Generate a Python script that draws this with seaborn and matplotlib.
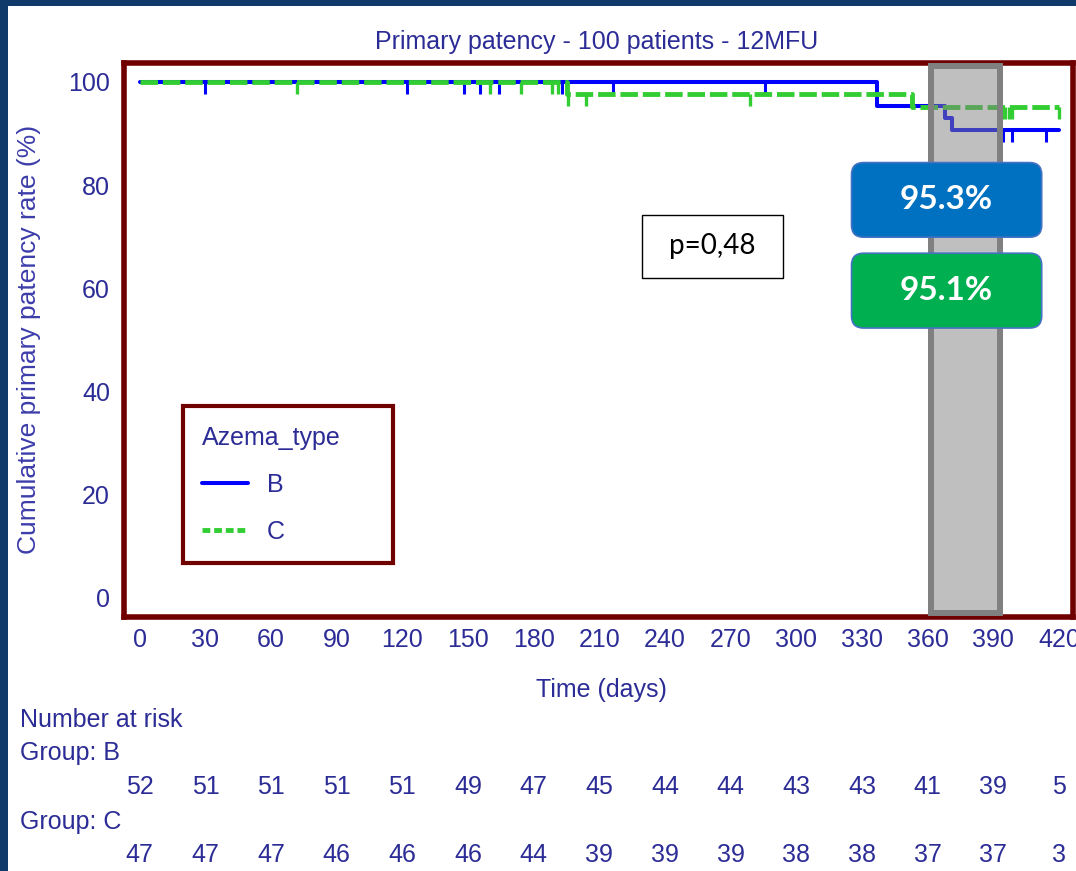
import numpy as np
import pandas as pd
import seaborn as sns
import matplotlib.pyplot as plt
import matplotlib.transforms as mtransforms
from matplotlib.lines import Line2D
from matplotlib.patches import Rectangle, FancyBboxPatch

# ---- data ----
tick_days = [0, 30, 60, 90, 120, 150, 180, 210, 240, 270, 300, 330, 360, 390, 420]
risk_b = [52, 51, 51, 51, 51, 49, 47, 45, 44, 44, 43, 43, 41, 39, 5]
risk_c = [47, 47, 47, 46, 46, 46, 44, 39, 39, 39, 38, 38, 37, 37, 3]

# Kaplan-Meier steps (day, cumulative patency %)
steps_b_day = [0, 337, 368, 371, 420]
steps_b_rate = [100, 95.3, 93.0, 90.7, 90.7]
steps_c_day = [0, 195, 353, 420]
steps_c_rate = [100, 97.7, 95.1, 95.1]

# censored observations (days)
censor_b = [30, 122, 148, 155.5, 164, 193, 216, 285.5, 394.5, 398.5, 414]
censor_c = [72, 160, 174, 188.5, 191, 195.5, 204, 279, 394, 395.5, 397, 398.5, 420]

est_labels = ["95.3%", "95.1%"]
p_label = "p=0,48"

# ---- colours ----
spine_c = "#700000"
text_c = "#2c2c96"
blue = "#0000ff"
green = "#32cd32"
fs = 18


def rate_at(days, step_day, step_rate):
    idx = np.searchsorted(step_day, days, side="right") - 1
    return np.asarray(step_rate)[idx]


sns.set_style("white")
plt.rcParams["font.family"] = ["Liberation Sans", "DejaVu Sans"]

fig = plt.figure(figsize=(10.76, 8.71), dpi=100)
fig.patch.set_facecolor("#0f3a6a")
fig.add_artist(Rectangle((7.5 / 1076, 0), 1, 1 - 6 / 871, transform=fig.transFigure,
                         facecolor="white", edgecolor="none", zorder=-10))

ax = fig.add_axes([124 / 1076, 1 - 617 / 871, 949 / 1076, 553.7 / 871])

df_b = pd.DataFrame({"day": steps_b_day, "rate": steps_b_rate})
df_c = pd.DataFrame({"day": steps_c_day, "rate": steps_c_rate})

sns.lineplot(data=df_b, x="day", y="rate", ax=ax, color=blue, lw=2.9,
             drawstyle="steps-post", estimator=None, sort=False, legend=False, zorder=3)
sns.scatterplot(x=censor_b, y=rate_at(censor_b, steps_b_day, steps_b_rate), ax=ax,
                marker=3, s=75, color=blue, linewidth=2.2, legend=False, zorder=3)

sns.lineplot(data=df_c, x="day", y="rate", ax=ax, color=green, lw=3.5,
             linestyle=(0, (3.6, 1.0)), drawstyle="steps-post", estimator=None,
             sort=False, legend=False, zorder=4)
sns.scatterplot(x=censor_c, y=rate_at(censor_c, steps_c_day, steps_c_rate), ax=ax,
                marker=3, s=75, color=green, linewidth=2.4, legend=False, zorder=4)

# grey highlight around 12 months
ax.add_patch(Rectangle((361.5, -2.9), 31.5, 105.9, facecolor=(0.5, 0.5, 0.5, 0.5),
                       edgecolor="#808080", lw=4.3, zorder=5))

# estimate boxes
aspect = 2.189 / 5.16
for (y0, y1), col, lab in zip([(69.9, 84.36), (52.3, 66.8)], ["#0070c0", "#00b050"], est_labels):
    ax.add_patch(FancyBboxPatch((325.2, y0), 86.9, y1 - y0,
                                boxstyle="round,pad=0,rounding_size=5.5", mutation_aspect=aspect,
                                facecolor=col, edgecolor="#4472c4", lw=1.2, zorder=6))
    ax.text(368.65, (y0 + y1) / 2, lab, ha="center", va="center", color="white",
            fontsize=24, fontweight="bold", family=["Lato", "DejaVu Sans"], zorder=7)

ax.add_patch(Rectangle((229.5, 62.0), 64.4, 12.2, facecolor="white", edgecolor="black",
                       lw=1.0, zorder=6))
ax.text(261.7, 68.1, p_label, ha="center", va="center", color="black", fontsize=20,
        family=["Lato", "DejaVu Sans"], zorder=7)

# axes styling
ax.set_xlim(-7.2, 426.4)
ax.set_ylim(-3.7, 103.6)
ax.set_xticks(tick_days)
ax.set_xticks(np.arange(15, 420, 30), minor=True)
ax.set_yticks([0, 20, 40, 60, 80, 100])
ax.set_yticks([10, 30, 50, 70, 90], minor=True)
ax.set_xlabel("")
ax.set_ylabel("")
for side in ["left", "bottom", "top", "right"]:
    ax.spines[side].set_visible(True)
    ax.spines[side].set_color(spine_c)
    ax.spines[side].set_linewidth(4)
ax.tick_params(axis="x", which="major", direction="in", length=10.5, width=2,
               color=spine_c, labelsize=fs, labelcolor=text_c, pad=8)
ax.tick_params(axis="y", which="major", direction="in", length=10, width=2,
               color=spine_c, labelsize=fs, labelcolor=text_c, pad=10)
ax.tick_params(axis="x", which="minor", direction="in", length=4.5, width=2, color=spine_c)
ax.tick_params(axis="y", which="minor", direction="in", length=5.4, width=2, color=spine_c)

# legend
handles = [Line2D([], [], color=blue, lw=2.9),
           Line2D([], [], color=green, lw=3.5, ls=(0, (1.6, 0.8)))]
leg = ax.legend(handles, ["B", "C"], title="Azema_type", loc="upper left",
                bbox_to_anchor=(0.0619, 0, 0.2219, 0.381), mode="expand", borderaxespad=0,
                fontsize=fs, title_fontsize=fs, frameon=True, fancybox=False,
                framealpha=1, edgecolor=spine_c, borderpad=0.78, labelspacing=0.92,
                handlelength=1.84, handletextpad=0.76, alignment="left", labelcolor=text_c)
leg.get_frame().set_linewidth(3)
leg.get_title().set_color(text_c)

# titles and labels
fig.text(596.5 / 1076, 1 - 49 / 871, "Primary patency - 100 patients - 12MFU",
         ha="center", va="baseline", fontsize=fs, color=text_c)
fig.text(601 / 1076, 1 - 697 / 871, "Time (days)", ha="center", va="baseline",
         fontsize=fs, color=text_c)
fig.text(29 / 1076, 1 - 339 / 871, "Cumulative primary patency rate (%)", rotation=90,
         ha="center", va="center", fontsize=19, color="#3d3dab")

# number at risk table
blend = mtransforms.blended_transform_factory(ax.transData, fig.transFigure)
fig.text(20 / 1076, 1 - 727 / 871, "Number at risk", ha="left", va="baseline",
         fontsize=fs, color=text_c)
fig.text(20 / 1076, 1 - 760 / 871, "Group: B", ha="left", va="baseline",
         fontsize=fs, color=text_c)
fig.text(20 / 1076, 1 - 829 / 871, "Group: C", ha="left", va="baseline",
         fontsize=fs, color=text_c)
for d, nb, nc in zip(tick_days, risk_b, risk_c):
    ax.text(d, 1 - 794 / 871, str(nb), transform=blend, ha="center", va="baseline",
            fontsize=fs, color=text_c, clip_on=False)
    ax.text(d, 1 - 862 / 871, str(nc), transform=blend, ha="center", va="baseline",
            fontsize=fs, color=text_c, clip_on=False)

fig.savefig("out.png", dpi=100)
plt.close(fig)
